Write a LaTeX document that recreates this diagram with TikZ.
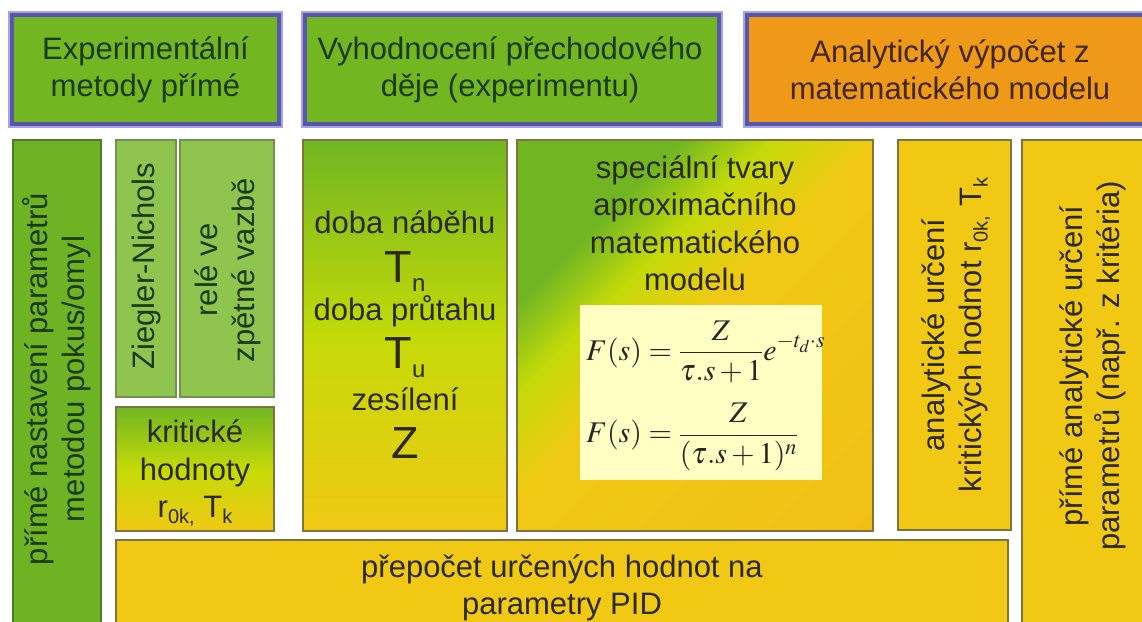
\documentclass[tikz,border=0pt]{standalone}
\usepackage{mathptmx}
\usepackage{fontspec}
\setmainfont{Liberation Sans}
\usepackage{graphicx}

% palette
\definecolor{hgreen}{RGB}{114,182,34}
\definecolor{horange}{RGB}{239,153,24}
\definecolor{hblue}{RGB}{88,86,172}
\definecolor{hbluel}{RGB}{165,165,228}
\definecolor{lgreen}{RGB}{109,179,36}
\definecolor{pgreen}{RGB}{143,197,78}
\definecolor{ylw}{RGB}{241,201,20}
\definecolor{ylwdeep}{RGB}{240,192,22}
\definecolor{gmid}{RGB}{196,218,8}
\definecolor{gtop}{RGB}{112,182,34}
\definecolor{fbg}{RGB}{255,255,196}
\definecolor{edgeY}{RGB}{128,116,62}
\definecolor{edgeG}{RGB}{78,124,38}
\definecolor{edgeL}{RGB}{112,146,78}
\definecolor{txtG}{RGB}{28,58,18}
\definecolor{txtO}{RGB}{66,38,14}
\definecolor{txtD}{RGB}{44,42,22}

% green-to-yellow fill: 75bp = top edge, 25bp = bottom edge of the shaded path
\pgfdeclareverticalshading{diaggrad}{100bp}{color(0bp)=(ylwdeep); color(25bp)=(ylwdeep);
  color(51bp)=(ylw); color(58bp)=(gmid); color(64bp)=(gtop); color(75bp)=(gtop); color(100bp)=(gtop)}

% large symbol with lowered index, and a small lowered index
\newcommand\bigT[2]{{\fontsize{45}{45}\selectfont #1}\raisebox{-9pt}{\fontsize{24}{24}\selectfont #2}}
\newcommand\lowidx[1]{\raisebox{-6pt}{\fontsize{20}{20}\selectfont #1}}

\tikzset{
  hdr/.style={draw=hblue, line width=4pt, inner sep=0pt, outer sep=0pt, anchor=north west},
  hframe/.style={draw=hbluel, line width=2pt},
  panel/.style={draw=#1, line width=1.5pt, inner sep=0pt, outer sep=0pt, anchor=north west},
  % middle color must come after bottom color, which resets it
  grad/.style={top color=gtop, bottom color=ylw, middle color=gmid},
  txt/.style={font=\fontsize{31}{37}\selectfont, align=center, inner sep=0pt},
  big/.style={font=\fontsize{45}{45}\selectfont, inner sep=0pt},
  formula/.style={font=\fontsize{30}{34}\selectfont, inner sep=0pt, text=black!85, anchor=west}
}

\begin{document}
\begin{tikzpicture}[x=1pt,y=-1pt]
\clip (0,0) rectangle (1142,621);
\fill[white] (0,0) rectangle (1142,621);

% ---- header row ----
\node[hdr, fill=hgreen, minimum width=267pt, minimum height=109pt] (h1) at (12,15) {};
\node[hdr, fill=hgreen, minimum width=414pt, minimum height=109pt] (h2) at (305,15) {};
\node[hdr, fill=horange, minimum width=409pt, minimum height=109pt] (h3) at (747,15) {};
\foreach \h in {h1,h2,h3}
  \draw[hframe] ([shift={(-3,-3)}]\h.north west) rectangle ([shift={(3,3)}]\h.south east);
\node[txt, text=txtG] (t1) at (h1.center) {Experimentální\\metody přímé};
\node[txt, text=txtG] (t2) at ([xshift=-2]h2.center) {Vyhodnocení přechodového\\děje (experimentu)};
\node[txt, text=txtO] (t3) at (950,69.5) {Analytický výpočet z\\matematického modelu};

% ---- experimental direct methods ----
\node[panel=edgeG, fill=lgreen, minimum width=88pt, minimum height=500pt] (p1) at (13,140) {};
\node[txt, text=txtG, rotate=90] (p1t) at (57,379) {přímé nastavení parametrů\\metodou pokus/omyl};

\node[panel=edgeL, fill=pgreen, minimum width=60pt, minimum height=257pt] (zn) at (116,140) {};
\node[txt, text=txtG, rotate=90] (znt) at (146,266) {Ziegler-Nichols};
\node[panel=edgeL, fill=pgreen, minimum width=94pt, minimum height=257pt] (rel) at (180,140) {};
\node[txt, text=txtG, rotate=90] (relt) at (228,270) {relé ve\\zpětné vazbě};

\node[panel=edgeY, grad, minimum width=158pt, minimum height=124pt] (kh) at (116,407) {};
\node[txt, text=txtD, anchor=base] (kh1) at (195,442) {kritické};
\node[txt, text=txtD, anchor=base] (kh2) at (195,480) {hodnoty};
\node[txt, text=txtD, anchor=base] (kh3) at (195,517) {r\lowidx{0k,} T\lowidx{k}};

% ---- step response evaluation ----
\node[panel=edgeY, grad, minimum width=204pt, minimum height=391pt] (db) at (303,140) {};
\node[txt, text=txtD, anchor=base] (db1) at (405,233) {doba náběhu};
\node[txt, text=txtD, anchor=base] (db2) at (405,282) {\bigT{T}{n}};
\node[txt, text=txtD, anchor=base] (db3) at (405,320) {doba průtahu};
\node[txt, text=txtD, anchor=base] (db4) at (405,368) {\bigT{T}{u}};
\node[txt, text=txtD, anchor=base] (db5) at (405,410) {zesílení};
\node[big, text=txtD, anchor=base] (db6) at (405,458) {Z};

% diagonal fill of the model panel: a square shaded top-to-bottom, turned by 45 degrees
\begin{scope}
  \clip (517,140) rectangle (873,531);
  \begin{scope}[transform canvas={rotate around={45:(695,335.5)}}]
    \shade[shading=diaggrad] (431,71.5) rectangle (959,599.5);
  \end{scope}
\end{scope}
\node[panel=edgeY, minimum width=356pt, minimum height=391pt] (sp) at (517,140) {};
\node[txt, text=txtD, anchor=base] (sp1) at (695,178) {speciální tvary};
\node[txt, text=txtD, anchor=base] (sp2) at (695,215) {aproximačního};
\node[txt, text=txtD, anchor=base] (sp3) at (695,253) {matematického};
\node[txt, text=txtD, anchor=base] (sp4) at (695,290) {modelu};
\node[fill=fbg, inner sep=0pt, outer sep=0pt, anchor=north west,
      minimum width=242pt, minimum height=175pt] (fb) at (580,305) {};
\node[formula] (f1) at (586,352) {$\displaystyle F(s)=\frac{Z}{\tau.s+1}e^{-t_d\cdot s}$};
\node[formula] (f2) at (586,437) {$\displaystyle F(s)=\frac{Z}{(\tau.s+1)^n}$};

% ---- analytical computation ----
\node[panel=edgeY, fill=ylw, minimum width=113pt, minimum height=390pt] (an) at (898,140) {};
\node[txt, text=txtD, rotate=90] (ant) at (956,335) {analytické určení\\kritických hodnot r\lowidx{0k,} T\lowidx{k}};
\node[panel=edgeY, fill=ylw, minimum width=150pt, minimum height=500pt] (pa) at (1022,140) {};
\node[txt, text=txtD, rotate=90] (pat) at (1093,366) {přímé analytické určení\\parametrů (např. z kritéria)};

% ---- conversion to PID parameters ----
\node[panel=edgeY, fill=ylw, minimum width=892pt, minimum height=100pt] (pid) at (116,540) {};
\node[txt, text=txtD, anchor=base] (pid1) at (562,577) {přepočet určených hodnot na};
\node[txt, text=txtD, anchor=base] (pid2) at (562,614) {parametry PID};
\end{tikzpicture}
\end{document}
